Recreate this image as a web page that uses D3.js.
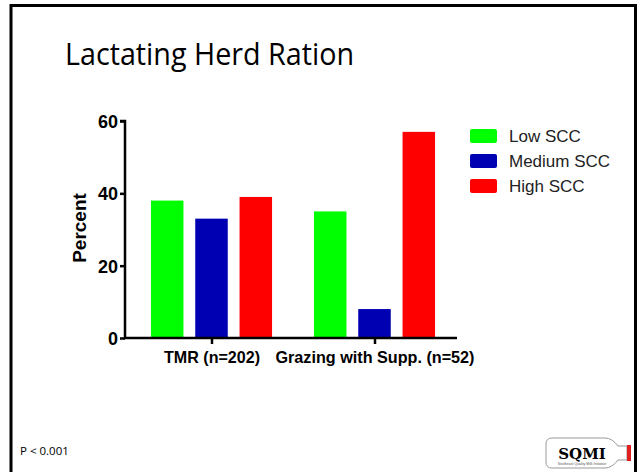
<!DOCTYPE html>
<html>
<head>
<meta charset="utf-8">
<script src="https://cdn.jsdelivr.net/npm/d3@7"></script>
<style>
  body { margin: 0; background: #fff; }
  svg { display: block; }
</style>
</head>
<body>
<div id="chart"></div>
<script>
// data
const groups = ["TMR (n=202)", "Grazing with Supp. (n=52)"];
const seriesNames = ["Low SCC", "Medium SCC", "High SCC"];
const lowValues = [38, 35];
const mediumValues = [33, 8];
const highValues = [39, 57];
const yTicks = [0, 20, 40, 60];
const colors = ["#00ff00", "#0000b3", "#ff0000"];

const series = [lowValues, mediumValues, highValues];

const svg = d3.select("#chart")
    .append("svg")
    .attr("width", 640)
    .attr("height", 472);

// slide frame (top, left, right)
svg.append("path")
    .attr("d", "M11,472 V5.5 H635.5 V472")
    .attr("fill", "none")
    .attr("stroke", "#000")
    .attr("stroke-width", 3);

// title
svg.append("text")
    .attr("x", 65)
    .attr("y", 65)
    .attr("textLength", 289)
    .attr("lengthAdjust", "spacingAndGlyphs")
    .style("font-family", "'Open Sans', 'Liberation Sans', sans-serif")
    .style("font-size", "31px")
    .text("Lactating Herd Ration");

// scales
const x0 = d3.scalePoint()
    .domain(groups)
    .range([212, 375]);

const yScale = d3.scaleLinear()
    .domain([0, 60])
    .range([338, 121]);

const barWidth = 32.5;
const barStep = 44.3;

// bars
series.forEach((vals, si) => {
    svg.selectAll(".bar" + si)
        .data(vals)
        .enter()
        .append("rect")
        .attr("x", (d, i) => x0(groups[i]) + (si - 1) * barStep - barWidth / 2 - 0.5)
        .attr("y", d => yScale(d))
        .attr("width", barWidth)
        .attr("height", d => yScale(0) - yScale(d))
        .attr("fill", colors[si]);
});

// y axis
const yAxis = svg.append("g")
    .attr("transform", "translate(125,0)")
    .call(d3.axisLeft(yScale).tickValues(yTicks).tickSize(5).tickPadding(2));
yAxis.select(".domain").attr("stroke-width", 2.5).attr("d", "M-5,121H0V338");
yAxis.selectAll(".tick line").attr("stroke-width", 2.5);
yAxis.selectAll(".tick text")
    .style("font-family", "'Liberation Sans', Arial, sans-serif")
    .style("font-weight", "bold")
    .style("font-size", "18px")
    .attr("dy", "0.36em")
    .attr("fill", "#000");

// x axis
svg.append("line")
    .attr("x1", 124)
    .attr("x2", 457)
    .attr("y1", yScale(0))
    .attr("y2", yScale(0))
    .attr("stroke", "#000")
    .attr("stroke-width", 2.5);

svg.selectAll(".xtick")
    .data(groups)
    .enter()
    .append("line")
    .attr("x1", d => x0(d))
    .attr("x2", d => x0(d))
    .attr("y1", yScale(0))
    .attr("y2", yScale(0) + 6)
    .attr("stroke", "#000")
    .attr("stroke-width", 2.5);

svg.selectAll(".xlabel")
    .data(groups)
    .enter()
    .append("text")
    .attr("x", d => x0(d))
    .attr("y", 363)
    .attr("text-anchor", "middle")
    .attr("textLength", (d, i) => i === 0 ? 96 : 199)
    .attr("lengthAdjust", "spacingAndGlyphs")
    .style("font-family", "'Liberation Sans', Arial, sans-serif")
    .style("font-weight", "bold")
    .style("font-size", "16.5px")
    .text(d => d);

// y axis title
svg.append("text")
    .attr("transform", "translate(86,228) rotate(-90)")
    .attr("text-anchor", "middle")
    .style("font-family", "'Liberation Sans', Arial, sans-serif")
    .style("font-weight", "bold")
    .style("font-size", "19px")
    .text("Percent");

// legend
const legend = svg.selectAll(".legend")
    .data(seriesNames)
    .enter()
    .append("g")
    .attr("transform", (d, i) => `translate(470,${129 + i * 25})`);

legend.append("rect")
    .attr("width", 27)
    .attr("height", 14)
    .attr("rx", 2)
    .attr("fill", (d, i) => colors[i]);

legend.append("text")
    .attr("x", 39)
    .attr("y", 7)
    .attr("dy", "0.36em")
    .style("font-family", "'Liberation Sans', Arial, sans-serif")
    .style("font-size", "17px")
    .attr("fill", "#222")
    .text(d => d);

// p-value note
svg.append("text")
    .attr("x", 20)
    .attr("y", 455)
    .style("font-family", "'Open Sans', 'Liberation Sans', sans-serif")
    .style("font-size", "11.5px")
    .text("P < 0.001");

// SQMI logo (bottle)
const logo = svg.append("g");
logo.append("path")
    .attr("d", "M552,438 H605 Q612,438 618,446 H627 V460 H618 Q612,468 605,468 H552 Q546,468 546,462 V444 Q546,438 552,438 Z")
    .attr("fill", "#fff")
    .attr("stroke", "#999")
    .attr("stroke-width", 1);
logo.append("rect")
    .attr("x", 627)
    .attr("y", 445)
    .attr("width", 4)
    .attr("height", 16)
    .attr("fill", "#e02020");
logo.append("text")
    .attr("x", 582)
    .attr("y", 459)
    .attr("text-anchor", "middle")
    .style("font-family", "'DejaVu Serif', 'Liberation Serif', serif")
    .style("font-weight", "bold")
    .style("font-size", "15px")
    .text("SQMI");
logo.append("text")
    .attr("x", 582)
    .attr("y", 465)
    .attr("text-anchor", "middle")
    .style("font-family", "'Liberation Sans', Arial, sans-serif")
    .style("font-size", "3.5px")
    .attr("fill", "#555")
    .text("Southeast Quality Milk Initiative");
</script>
</body>
</html>
